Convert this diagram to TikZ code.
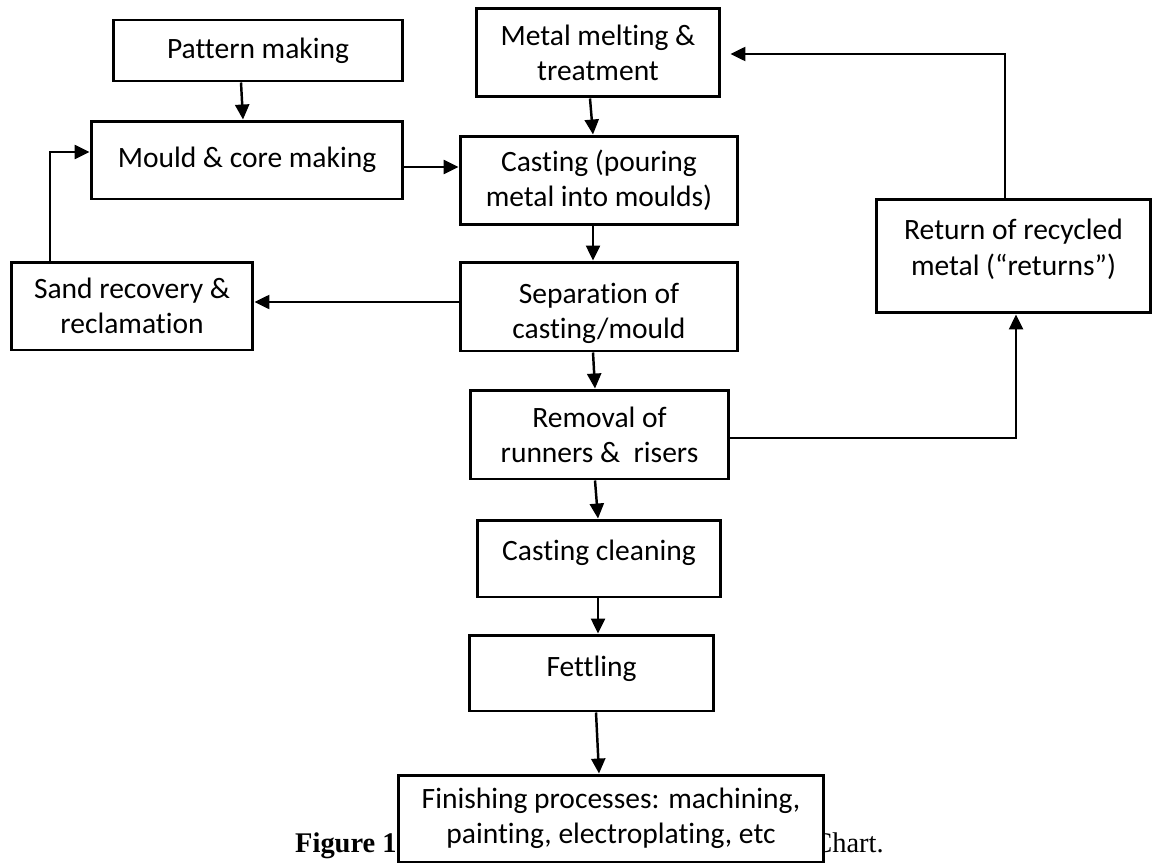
\documentclass[tikz,border=0pt]{standalone}
\usepackage{fontspec}
\setmainfont[RawFeature={-liga;-clig;-calt}]{Carlito}
\newfontfamily\captionserif{Liberation Serif}
\usetikzlibrary{arrows.meta}

\tikzset{
  stage/.style={rectangle, draw=black, line width=1.7pt, fill=white, align=center, inner sep=2pt, font=\fontsize{16.8}{20}\selectfont},
  flow/.style={line width=1.4pt, -{Triangle[length=0.3cm, width=0.28cm]}}
}

\begin{document}
\begin{tikzpicture}[x=0.02cm, y=-0.02cm]
\useasboundingbox (0,0) rectangle (1152,865);

% Caption (partly hidden behind the last box)
\node[font=\captionserif\fontsize{16.2}{19}\selectfont\bfseries, anchor=base east, inner sep=0pt] (figlabel) at (397,852) {Figure 1};
\node[font=\captionserif\fontsize{16.2}{19}\selectfont, anchor=base west, inner sep=0pt] (figtail) at (813,852) {Chart.};

% Boxes
\node[stage, minimum width=5.8cm, minimum height=1.22cm] (pattern) at (258,50.5) {Pattern making};
\node[stage, minimum width=6.24cm, minimum height=1.56cm] (mould) at (247,160) {Mould \& core making};
\node[stage, minimum width=4.84cm, minimum height=1.76cm] (sand) at (132,306) {Sand recovery \&\\ reclamation};
\node[stage, minimum width=4.88cm, minimum height=1.78cm] (metal) at (598,52.5) {Metal melting \&\\ treatment};
\node[stage, minimum width=5.56cm, minimum height=1.78cm] (casting) at (599,180.5) {Casting (pouring\\ metal into moulds)};
\node[stage, minimum width=5.56cm, minimum height=1.78cm, text height=1.38cm] (separation) at (599,306.5) {Separation of\\ casting/mould};
\node[stage, minimum width=5.5cm, minimum height=2.28cm, text depth=0.35cm] (returns) at (1013.5,256) {Return of recycled\\ metal (``returns'')};
\node[stage, minimum width=5.18cm, minimum height=1.78cm] (removal) at (599.5,434.5) {Removal of\\ runners \&\ \ risers};
\node[stage, minimum width=4.88cm, minimum height=1.54cm, text depth=0.32cm] (cleaning) at (599,558.5) {Casting cleaning};
\node[stage, minimum width=4.9cm, minimum height=1.52cm, text depth=0.28cm] (fettling) at (591.5,673) {Fettling};
\node[stage, minimum width=8.52cm, minimum height=1.74cm] (finishing) at (611,818.5) {Finishing processes: machining,\\ painting, electroplating, etc};

% Arrows
\draw[flow] (241,0 |- pattern.south) -- (243,0 |- mould.north);
\draw[flow] (mould.east |- 0,167) -- (casting.west |- 0,167);
\draw[flow] (50,0 |- sand.north) |- (mould.west |- 0,152);
\draw[flow] (separation.west |- 0,302) -- (sand.east |- 0,302);
\draw[flow] (590,0 |- metal.south) -- (593,0 |- casting.north);
\draw[flow] (593,0 |- casting.south) -- (593,0 |- separation.north);
\draw[flow] (593,0 |- separation.south) -- (595,0 |- removal.north);
\draw[flow] (removal.east |- 0,438) -| (1016,0 |- returns.south);
\draw[flow, shorten >=0.18cm] (1005,0 |- returns.north) |- (metal.east |- 0,54);
\draw[flow] (595,0 |- removal.south) -- (598,0 |- cleaning.north);
\draw[flow] (598,0 |- cleaning.south) -- (598,0 |- fettling.north);
\draw[flow] (596,0 |- fettling.south) -- (599,0 |- finishing.north);
\end{tikzpicture}
\end{document}
